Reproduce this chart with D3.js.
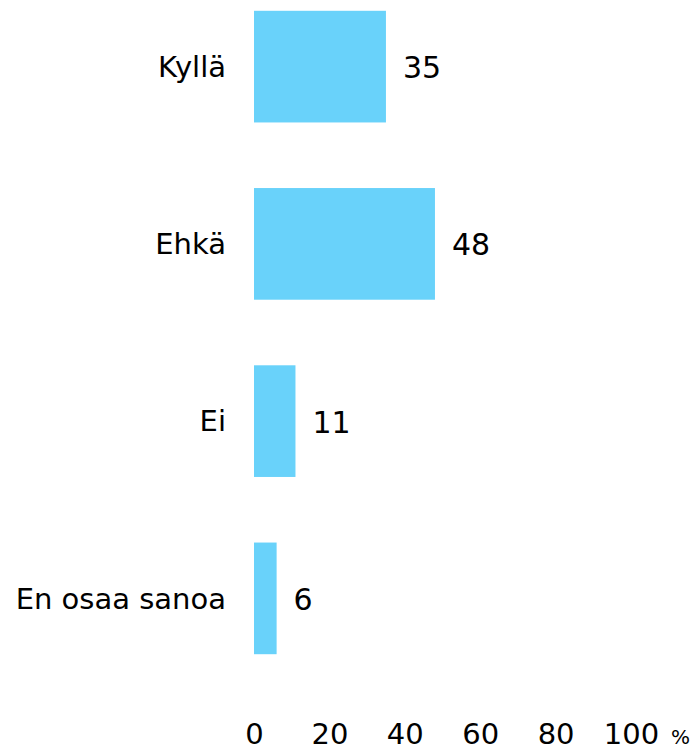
<!DOCTYPE html>
<html>
<head>
<meta charset="utf-8">
<script src="https://cdn.jsdelivr.net/npm/d3@7"></script>
<style>
  body { margin: 0; background: #fff; }
  text { font-family: "DejaVu Sans", Verdana, sans-serif; fill: #000; }
  .domain, .tick line { display: none; }
</style>
</head>
<body>
<div id="chart"></div>
<script>
var categories = ["Kyllä", "Ehkä", "Ei", "En osaa sanoa"];
var values = [35, 48, 11, 6];
var ticks = [0, 20, 40, 60, 80, 100];

var width = 700,
    height = 746,
    left = 254,
    barColor = "#69d2fa";

var svg = d3.select("#chart")
            .append("svg")
            .attr("width", width)
            .attr("height", height);

var x = d3.scaleLinear().domain([0, 100]).range([left, left + 377]);
var y = d3.scaleBand()
          .domain(categories)
          .range([-22, 687])
          .paddingInner(0.37)
          .paddingOuter(0.185);

var data = categories.map(function(c, i) { return {cat: c, val: values[i]}; });

svg.selectAll("rect.bar")
   .data(data)
   .enter()
   .append("rect")
   .attr("class", "bar")
   .attr("x", x(0))
   .attr("y", function(d) { return y(d.cat); })
   .attr("width", function(d) { return x(d.val) - x(0); })
   .attr("height", y.bandwidth())
   .attr("fill", barColor);

// category labels
svg.append("g")
   .attr("transform", "translate(" + (left - 28) + ",0)")
   .call(d3.axisLeft(y).tickSize(0).tickPadding(0))
   .selectAll("text")
   .attr("font-size", 29)
   .attr("dy", "0.35em");

// value labels
svg.selectAll("text.val")
   .data(data)
   .enter()
   .append("text")
   .attr("class", "val")
   .attr("x", function(d) { return x(d.val) + 17; })
   .attr("y", function(d) { return y(d.cat) + y.bandwidth() / 2; })
   .attr("dy", "0.38em")
   .attr("font-size", 30)
   .text(function(d) { return d.val; });

// x axis
var xAxis = svg.append("g")
   .attr("transform", "translate(0,715)")
   .call(d3.axisBottom(x).tickValues(ticks).tickSize(0).tickPadding(0));
xAxis.selectAll("text")
   .attr("font-size", 29)
   .attr("dy", "1em");

svg.append("text")
   .attr("x", x(100) + 40)
   .attr("y", 744)
   .attr("font-size", 20)
   .text("%");
</script>
</body>
</html>
